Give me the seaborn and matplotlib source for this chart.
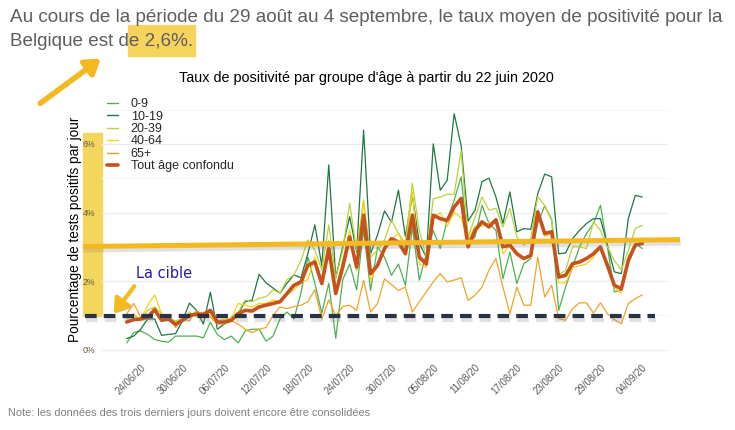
import numpy as np
import pandas as pd
import matplotlib
matplotlib.use("Agg")
import matplotlib.pyplot as plt
import matplotlib.dates as mdates
import matplotlib.patheffects as pe
import matplotlib.transforms as mtransforms
from matplotlib.patches import Rectangle, FancyArrowPatch
from matplotlib.lines import Line2D
import seaborn as sns

# 22/06/2020 -> 04/09/2020, une valeur par jour
dates = pd.date_range("2020-06-22", "2020-09-04", freq="D")

groupes = ["0-9", "10-19", "20-39", "40-64", "65+", "Tout âge confondu"]
couleurs = ["#4fb052", "#1d7843", "#b9d43a", "#f1d317", "#f1a326", "#c9511c"]
epaisseurs = [0.9, 0.9, 0.9, 0.9, 0.9, 2.6]

age_0_9 = [0.20, 0.50, 0.55, 0.45, 0.30, 0.25, 0.22, 0.40, 0.40, 0.40,
           0.40, 0.35, 0.80, 0.45, 0.30, 0.40, 0.20, 0.55, 0.60, 0.60,
           0.25, 0.40, 0.90, 1.10, 0.90, 1.65, 2.70, 1.94, 1.07, 1.94,
           0.34, 2.04, 2.50, 1.75, 3.50, 1.73, 3.00, 2.70, 2.17, 2.50,
           1.88, 3.58, 2.03, 2.80, 3.48, 2.95, 3.78, 4.36, 5.04, 3.10,
           3.29, 4.21, 3.68, 3.48, 2.07, 2.85, 1.93, 2.51, 2.66, 3.68,
           4.20, 3.78, 1.15, 1.83, 2.41, 3.00, 3.39, 3.68, 4.21, 3.00,
           1.69, 1.73, 2.70, 3.10, 2.95]
age_10_19 = [0.33, 0.40, 0.60, 0.90, 0.90, 0.42, 0.45, 0.47, 0.85, 1.36,
             1.15, 0.75, 1.68, 0.60, 0.75, 0.85, 1.05, 1.40, 1.45, 2.20,
             1.95, 1.80, 1.65, 1.94, 2.18, 2.10, 2.80, 3.64, 2.45, 5.39,
             2.10, 3.00, 3.88, 2.85, 6.40, 2.80, 3.35, 4.05, 3.72, 4.65,
             3.30, 4.50, 3.10, 2.70, 6.00, 4.65, 4.94, 6.88, 5.95, 3.75,
             4.07, 4.90, 5.00, 4.45, 3.68, 4.60, 3.44, 3.53, 3.51, 4.55,
             5.12, 5.04, 2.80, 2.82, 3.24, 3.48, 3.68, 3.82, 3.82, 3.05,
             2.27, 2.22, 3.82, 4.50, 4.45]
age_20_39 = [0.90, 1.00, 0.85, 1.15, 1.25, 1.05, 0.90, 0.85, 0.90, 1.10,
             0.95, 1.00, 1.10, 0.80, 0.80, 0.95, 1.10, 1.45, 1.40, 1.50,
             1.55, 1.75, 1.65, 2.04, 2.18, 2.60, 3.20, 2.90, 2.33, 3.64,
             2.09, 2.90, 4.27, 2.90, 4.37, 2.70, 2.90, 3.20, 3.78, 3.39,
             3.10, 4.85, 3.48, 2.70, 4.40, 4.45, 4.53, 4.53, 5.80, 3.29,
             3.87, 4.45, 4.07, 4.12, 3.58, 4.12, 3.29, 3.05, 3.24, 4.47,
             4.20, 3.82, 2.17, 2.32, 3.00, 3.00, 2.95, 3.73, 3.48, 3.00,
             2.60, 2.32, 2.90, 3.53, 3.63]
age_40_64 = [0.95, 1.05, 0.85, 1.30, 1.60, 1.05, 0.95, 0.80, 0.90, 1.00,
             1.05, 1.10, 1.00, 0.85, 0.90, 0.90, 1.35, 1.30, 1.25, 1.35,
             1.35, 1.45, 1.40, 1.60, 1.75, 1.95, 2.05, 2.70, 2.00, 3.20,
             1.75, 2.60, 3.50, 2.30, 4.35, 2.00, 2.50, 3.00, 3.20, 3.40,
             2.90, 4.60, 2.50, 2.40, 3.85, 4.00, 3.60, 4.00, 3.85, 3.20,
             3.60, 3.60, 3.70, 3.75, 2.80, 3.05, 2.75, 2.65, 2.70, 4.00,
             3.30, 3.40, 1.95, 1.95, 2.40, 2.45, 2.50, 2.70, 3.00, 2.40,
             1.80, 1.65, 2.55, 3.05, 3.15]
age_65 = [1.05, 1.35, 0.95, 0.90, 1.20, 0.85, 1.00, 0.65, 0.90, 0.85,
          1.15, 1.00, 0.95, 0.75, 0.75, 0.85, 0.75, 0.60, 0.50, 0.60,
          0.65, 1.00, 1.25, 1.20, 1.26, 1.30, 1.40, 1.75, 0.90, 1.46,
          1.00, 1.26, 1.30, 1.15, 2.03, 1.10, 1.35, 2.07, 1.90, 1.73,
          1.83, 1.10, 1.40, 1.69, 1.98, 2.22, 1.98, 2.03, 2.10, 1.44,
          1.59, 1.83, 2.32, 2.66, 1.83, 1.05, 1.83, 1.30, 1.30, 2.70,
          1.54, 1.88, 0.91, 0.86, 1.20, 1.37, 1.37, 1.07, 1.37, 1.05,
          0.88, 0.76, 1.35, 1.49, 1.60]
tout_age = [0.81, 0.88, 0.90, 0.95, 1.17, 0.86, 0.90, 0.74, 0.86, 1.00,
            1.04, 1.03, 1.15, 0.81, 0.81, 0.86, 1.05, 1.15, 1.13, 1.25,
            1.30, 1.35, 1.40, 1.64, 1.88, 1.98, 2.46, 2.56, 1.93, 2.95,
            1.64, 2.41, 3.29, 2.41, 3.92, 2.22, 2.46, 2.95, 3.24, 3.14,
            2.80, 3.92, 2.70, 2.50, 3.92, 3.82, 3.77, 4.16, 4.41, 3.00,
            3.48, 3.73, 3.58, 3.79, 3.00, 3.05, 2.80, 2.66, 2.75, 4.02,
            3.39, 3.44, 2.12, 2.17, 2.51, 2.56, 2.66, 2.80, 3.00, 2.46,
            1.88, 1.78, 2.60, 3.05, 3.10]

taux_moyen = "2,6%"
cible = 0.98          # ligne pointillée "La cible"
niveau_actuel = [3.01, 3.21]  # trait orange surligné (gauche, droite)

W, H = 735, 430


def fx(px):
    return px / W


def fy(py):
    return 1 - py / H


sns.set_style("white")
plt.rcParams["font.family"] = ["Liberation Sans", "DejaVu Sans"]

df = pd.DataFrame({"date": dates, "0-9": age_0_9, "10-19": age_10_19, "20-39": age_20_39,
                   "40-64": age_40_64, "65+": age_65, "Tout âge confondu": tout_age})
df = df.melt(id_vars="date", var_name="groupe", value_name="taux")

fig = plt.figure(figsize=(W / 100, H / 100), dpi=100)
fig.patch.set_facecolor("white")
ax = fig.add_axes([fx(101), fy(356), fx(668) - fx(101), fy(102) - fy(356)])
ax.set_facecolor("none")

sns.lineplot(data=df, x="date", y="taux", hue="groupe", size="groupe",
             palette=dict(zip(groupes, couleurs)), sizes=dict(zip(groupes, epaisseurs)),
             hue_order=groupes, size_order=groupes, legend=False, ax=ax)

start = dates[0]
ax.set_xlim(start - pd.Timedelta(days=3.7), start + pd.Timedelta(days=77.7))
ax.set_ylim(-0.18, 7.22)
ax.set_xticks(pd.date_range("2020-06-24", "2020-09-04", freq="6D"))
ax.xaxis.set_major_formatter(mdates.DateFormatter("%d/%m/%y"))
ax.set_yticks([0, 2, 4, 6])
ax.set_yticks([1, 3, 5, 7], minor=True)
ax.yaxis.set_major_formatter(plt.FuncFormatter(lambda v, p: f"{v:.0f}%"))
ax.grid(False)
ax.yaxis.grid(True, which="major", color="#ebebeb", lw=0.9)
ax.yaxis.grid(True, which="minor", color="#f5f5f5", lw=0.7)
for s in ax.spines.values():
    s.set_visible(False)
ax.tick_params(axis="both", which="major", length=2.5, width=0.6, color="#aaaaaa", pad=2)
ax.tick_params(axis="y", which="major", pad=1.5)
ax.tick_params(axis="y", which="minor", length=0)
ax.tick_params(axis="x", labelsize=7, labelcolor="#5a5a5a")
ax.tick_params(axis="y", labelsize=6.3, labelcolor="#655b3c")
plt.setp(ax.get_xticklabels(), rotation=45, ha="right", rotation_mode="anchor")
ax.set_xlabel("")
ax.set_ylabel("")

handles = [Line2D([], [], color=c, lw=w if w > 1 else 1.0) for c, w in zip(couleurs, epaisseurs)]
ax.legend(handles, groupes, loc="upper left", bbox_to_anchor=(fx(107), fy(98)),
          bbox_transform=fig.transFigure, frameon=False, fontsize=9,
          handlelength=0.9, handletextpad=1.0, labelspacing=0.04,
          borderpad=0, borderaxespad=0)

fig.text(fx(75), fy(229), "Pourcentage de tests positifs par jour", rotation=90,
         ha="center", va="center", fontsize=9.8, color="black")
fig.text(fx(366.5), fy(78), "Taux de positivité par groupe d'âge à partir du 22 juin 2020",
         ha="center", va="center", fontsize=10.4, color="black")

# texte au-dessus du graphique (justifié sur la largeur 10 -> 727 px)
renderer = fig.canvas.get_renderer()


def largeur(s, fs):
    t = fig.text(0, 0, s, fontsize=fs)
    w = t.get_window_extent(renderer).width
    t.remove()
    return w


ligne1 = "Au cours de la période du 29 août au 4 septembre, le taux moyen de positivité pour la"
ligne2 = f"Belgique est de {taux_moyen}."
fs_haut = 13.0 * 717 / largeur(ligne1, 13.0)
fig.text(fx(10), fy(18), ligne1, ha="left", va="center", fontsize=fs_haut, color="#5e5e5e")
x0 = 10 + largeur("Belgique est d", fs_haut) - 1
x1 = 10 + largeur(ligne2, fs_haut) + 2
fig.add_artist(Rectangle((fx(x0), fy(56)), fx(x1) - fx(x0), fy(25) - fy(56),
                         transform=fig.transFigure, color="#f6d35c", zorder=0))
fig.text(fx(10), fy(41), ligne2, ha="left", va="center",
         fontsize=fs_haut, color="#5e5e5e", zorder=2)

fig.text(fx(8), fy(413), "Note: les données des trois derniers jours doivent encore être consolidées",
         ha="left", va="center", fontsize=7.9, color="#808080")

# annotations
fig.add_artist(Rectangle((fx(83), fy(316)), fx(102) - fx(83), fy(133) - fy(316),
                         transform=fig.transFigure, color="#f2d65e", zorder=-1))

mix = mtransforms.blended_transform_factory(fig.transFigure, ax.transData)
ombre = [pe.SimpleLineShadow(offset=(0.5, -2.5), shadow_color="#777777", alpha=0.22), pe.Normal()]
fig.add_artist(Line2D([fx(83), fx(680)], niveau_actuel, transform=mix, color="#f4b820",
                      lw=3.6, solid_capstyle="butt", zorder=6, path_effects=ombre))
fig.add_artist(Line2D([fx(85), fx(655)], [cible, cible], transform=mix, color="#2a3245",
                      lw=3, linestyle=(0, (2.8, 1.7)), dash_capstyle="butt", zorder=6,
                      path_effects=ombre))

fig.text(fx(136), fy(273), "La cible", ha="left", va="center", fontsize=10.5,
         color="#2b1e9b", family="DejaVu Sans", zorder=7)

fleche = dict(arrowstyle="-|>,head_length=0.6,head_width=0.4", mutation_scale=14,
              color="#f4b820", transform=fig.transFigure, zorder=7,
              path_effects=[pe.SimplePatchShadow(offset=(1.5, -1.5), alpha=0.2), pe.Normal()])
fig.add_artist(FancyArrowPatch((fx(38), fy(105)), (fx(103), fy(57)), lw=4, **fleche))
fig.add_artist(FancyArrowPatch((fx(136), fy(284)), (fx(112), fy(316)), lw=3, **fleche))

fig.savefig("out.png", dpi=100)
